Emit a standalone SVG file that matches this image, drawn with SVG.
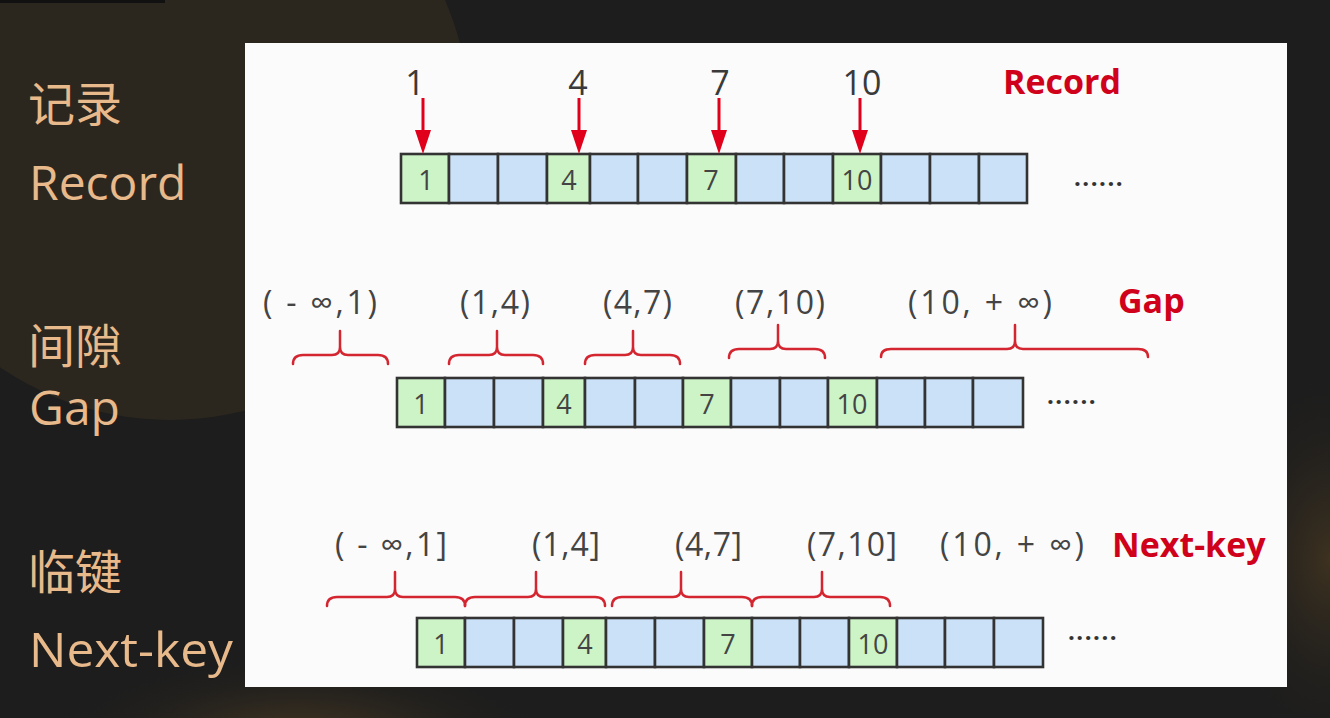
<svg xmlns="http://www.w3.org/2000/svg" width="1330" height="718" viewBox="0 0 1330 718">
<style>
.side{font-family:"Open Sans","Noto Sans CJK SC",sans-serif;fill:#e8b98a;font-size:48px}
.sidecjk{font-family:"Noto Sans CJK SC",sans-serif;fill:#e8b98a;font-size:47px}
.cg{fill:#ccf4c6;stroke:#333;stroke-width:2.6}
.cb{fill:#cbe1f7;stroke:#333;stroke-width:2.6}
.ct{font-family:"Open Sans","Noto Sans",sans-serif;font-size:27px;fill:#444;text-anchor:middle}
.num{font-family:"Open Sans","Noto Sans",sans-serif;font-size:34px;fill:#3a3a3a;text-anchor:middle}
.iv{font-family:"Open Sans","DejaVu Sans",sans-serif;font-size:32px;fill:#444}
.red{font-family:"Open Sans","Noto Sans",sans-serif;font-size:34px;font-weight:bold;fill:#d0021b}
.dots{font-family:"Open Sans",sans-serif;font-size:24px;font-weight:bold;fill:#333;letter-spacing:1.5px}
.brace{fill:none;stroke:#d42630;stroke-width:2.5;stroke-linecap:round;stroke-linejoin:round}
.arrow{stroke:#e0001b;stroke-width:3;marker-end:url(#ah)}
</style>
<defs>
<marker id="ah" viewBox="0 0 24 16" refX="10" refY="8" markerWidth="24" markerHeight="16" markerUnits="userSpaceOnUse" orient="auto">
<path d="M0,0 L24,8 L0,16 z" fill="#e0001b"/>
</marker>
<radialGradient id="glowBL" cx="0.5" cy="0.5" r="0.5">
<stop offset="0" stop-color="#4a3a22"/>
<stop offset="1" stop-color="#1c1c1c" stop-opacity="0"/>
</radialGradient>
<radialGradient id="glowR" cx="0.5" cy="0.5" r="0.5">
<stop offset="0" stop-color="#3e3220"/>
<stop offset="1" stop-color="#1c1c1c" stop-opacity="0"/>
</radialGradient>
</defs>

<!-- background -->
<rect x="0" y="0" width="1330" height="718" fill="#1d1d1d"/>
<circle cx="170" cy="120" r="300" fill="#2b271f"/>
<ellipse cx="300" cy="740" rx="260" ry="90" fill="url(#glowBL)"/>
<ellipse cx="1330" cy="560" rx="120" ry="200" fill="url(#glowR)"/>
<rect x="0" y="0" width="165" height="3" fill="#111"/>

<!-- panel -->
<rect x="245" y="43" width="1042" height="644" fill="#fbfbfb"/>

<!-- side labels -->
<g id="side-record">
<text class="sidecjk" x="28" y="121">记录</text>
<text class="side" x="29" y="200">Record</text>
</g>
<g id="side-gap">
<text class="sidecjk" x="28" y="363">间隙</text>
<text class="side" x="29" y="425">Gap</text>
</g>
<g id="side-nextkey">
<text class="sidecjk" x="28" y="589">临键</text>
<text class="side" x="29" y="667" textLength="204" lengthAdjust="spacingAndGlyphs">Next-key</text>
</g>

<!-- row 1: record -->
<g id="row-record">
<rect class="cg" x="401" y="154" width="48" height="49"/>
<rect class="cb" x="449" y="154" width="49" height="49"/>
<rect class="cb" x="498" y="154" width="49" height="49"/>
<rect class="cg" x="547" y="154" width="43" height="49"/>
<rect class="cb" x="590" y="154" width="48" height="49"/>
<rect class="cb" x="638" y="154" width="49" height="49"/>
<rect class="cg" x="687" y="154" width="49" height="49"/>
<rect class="cb" x="736" y="154" width="48" height="49"/>
<rect class="cb" x="784" y="154" width="49" height="49"/>
<rect class="cg" x="833" y="154" width="48" height="49"/>
<rect class="cb" x="881" y="154" width="49" height="49"/>
<rect class="cb" x="930" y="154" width="49" height="49"/>
<rect class="cb" x="979" y="154" width="48" height="49"/>
<text class="ct" x="426" y="190">1</text>
<text class="ct" x="569" y="190">4</text>
<text class="ct" x="711" y="190">7</text>
<text class="ct" x="857" y="190">10</text>
<text class="dots" x="1074" y="186">......</text>
</g>
<g id="labels-record">
<text class="num" x="415" y="95">1</text>
<text class="num" x="578" y="95">4</text>
<text class="num" x="720" y="95">7</text>
<text class="num" x="862" y="95">10</text>
<text class="red" x="1003" y="94">Record</text>
</g>

<!-- row 2: gap -->
<g id="row-gap">
<rect class="cg" x="397" y="378" width="48" height="49"/>
<rect class="cb" x="445" y="378" width="49" height="49"/>
<rect class="cb" x="494" y="378" width="49" height="49"/>
<rect class="cg" x="543" y="378" width="42" height="49"/>
<rect class="cb" x="585" y="378" width="50" height="49"/>
<rect class="cb" x="635" y="378" width="48" height="49"/>
<rect class="cg" x="683" y="378" width="48" height="49"/>
<rect class="cb" x="731" y="378" width="49" height="49"/>
<rect class="cb" x="780" y="378" width="48" height="49"/>
<rect class="cg" x="828" y="378" width="49" height="49"/>
<rect class="cb" x="877" y="378" width="48" height="49"/>
<rect class="cb" x="925" y="378" width="48" height="49"/>
<rect class="cb" x="973" y="378" width="50" height="49"/>
<text class="ct" x="421" y="414">1</text>
<text class="ct" x="564" y="414">4</text>
<text class="ct" x="707" y="414">7</text>
<text class="ct" x="852" y="414">10</text>
<text class="dots" x="1047" y="404">......</text>
</g>
<g id="labels-gap">
<text class="iv" x="263" y="314" textLength="114" lengthAdjust="spacing">( - ∞,1)</text>
<text class="iv" x="460" y="314" textLength="70" lengthAdjust="spacing">(1,4)</text>
<text class="iv" x="603" y="314" textLength="69" lengthAdjust="spacing">(4,7)</text>
<text class="iv" x="735" y="314" textLength="90" lengthAdjust="spacing">(7,10)</text>
<text class="iv" x="908" y="314" textLength="144" lengthAdjust="spacing">(10, + ∞)</text>
<text class="red" x="1118" y="313">Gap</text>
</g>

<!-- row 3: next-key -->
<g id="row-nextkey">
<rect class="cg" x="417" y="618" width="48" height="49"/>
<rect class="cb" x="465" y="618" width="49" height="49"/>
<rect class="cb" x="514" y="618" width="49" height="49"/>
<rect class="cg" x="563" y="618" width="43" height="49"/>
<rect class="cb" x="606" y="618" width="49" height="49"/>
<rect class="cb" x="655" y="618" width="49" height="49"/>
<rect class="cg" x="704" y="618" width="48" height="49"/>
<rect class="cb" x="752" y="618" width="48" height="49"/>
<rect class="cb" x="800" y="618" width="49" height="49"/>
<rect class="cg" x="849" y="618" width="48" height="49"/>
<rect class="cb" x="897" y="618" width="48" height="49"/>
<rect class="cb" x="945" y="618" width="49" height="49"/>
<rect class="cb" x="994" y="618" width="49" height="49"/>
<text class="ct" x="441" y="654">1</text>
<text class="ct" x="585" y="654">4</text>
<text class="ct" x="728" y="654">7</text>
<text class="ct" x="873" y="654">10</text>
<text class="dots" x="1068" y="640">......</text>
</g>
<g id="labels-nextkey">
<text class="iv" x="335" y="556" textLength="112" lengthAdjust="spacing">( - ∞,1]</text>
<text class="iv" x="532" y="556" textLength="68" lengthAdjust="spacing">(1,4]</text>
<text class="iv" x="675" y="556" textLength="67" lengthAdjust="spacing">(4,7]</text>
<text class="iv" x="807" y="556" textLength="90" lengthAdjust="spacing">(7,10]</text>
<text class="iv" x="940" y="556" textLength="144" lengthAdjust="spacing">(10, + ∞)</text>
<text class="red" x="1112" y="557">Next-key</text>
</g>

<!-- connectors: arrows and braces -->
<g id="connectors">
<line class="arrow" x1="423" y1="98" x2="423" y2="140"/>
<line class="arrow" x1="579" y1="98" x2="579" y2="140"/>
<line class="arrow" x1="719" y1="98" x2="719" y2="140"/>
<line class="arrow" x1="860" y1="98" x2="860" y2="140"/>

<path class="brace" d="M293,364 Q293,355 303,355 L332,355 Q340,355 340,347 L340,331 M340,347 Q340,355 348,355 L378,355 Q388,355 388,364"/>
<path class="brace" d="M449,364 Q449,355 459,355 L489,355 Q497,355 497,347 L497,331 M497,347 Q497,355 505,355 L533,355 Q543,355 543,364"/>
<path class="brace" d="M585,364 Q585,355 595,355 L625,355 Q633,355 633,347 L633,331 M633,347 Q633,355 641,355 L670,355 Q680,355 680,364"/>
<path class="brace" d="M729,358 Q729,349 739,349 L770,349 Q778,349 778,341 L778,325 M778,341 Q778,349 786,349 L815,349 Q825,349 825,358"/>
<path class="brace" d="M881,357 Q881,349 891,349 L1007,349 Q1015,349 1015,341 L1015,325 M1015,341 Q1015,349 1023,349 L1138,349 Q1148,349 1148,357"/>

<path class="brace" d="M327,606 Q327,597 337,597 L387,597 Q395,597 395,589 L395,572 M395,589 Q395,597 403,597 L455,597 Q465,597 465,606"/>
<path class="brace" d="M465,606 Q465,597 475,597 L528,597 Q536,597 536,589 L536,572 M536,589 Q536,597 544,597 L595,597 Q605,597 605,606"/>
<path class="brace" d="M612,606 Q612,597 622,597 L673,597 Q681,597 681,589 L681,572 M681,589 Q681,597 689,597 L742,597 Q752,597 752,606"/>
<path class="brace" d="M752,606 Q752,597 762,597 L814,597 Q822,597 822,589 L822,572 M822,589 Q822,597 830,597 L880,597 Q890,597 890,606"/>
</g>
</svg>
